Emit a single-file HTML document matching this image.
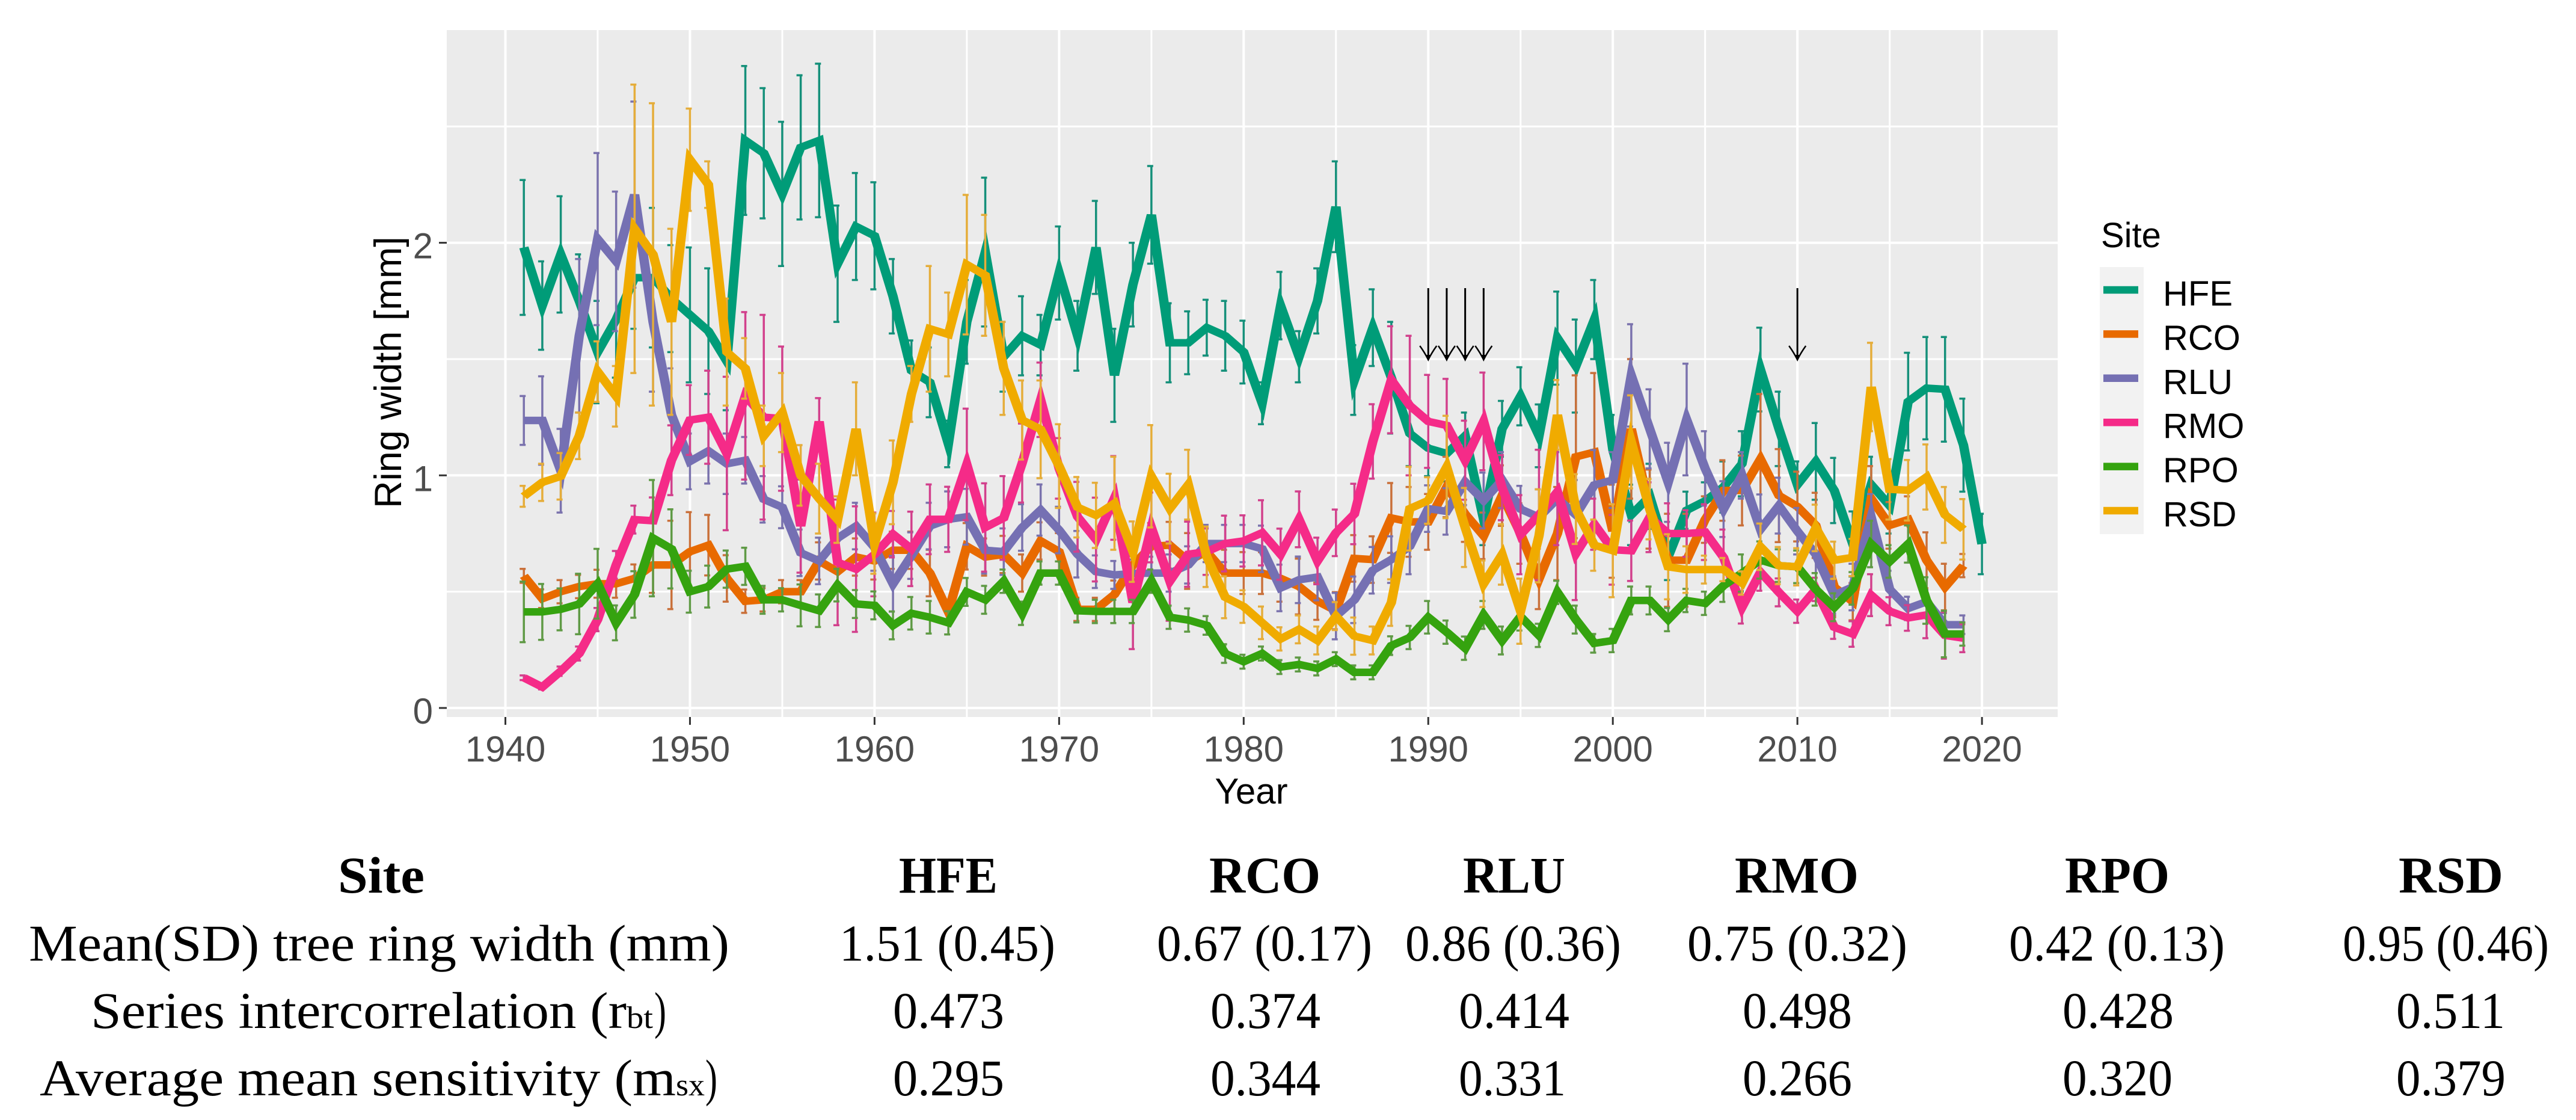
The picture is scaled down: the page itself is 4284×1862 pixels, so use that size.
<!DOCTYPE html>
<html lang="en">
<head>
<meta charset="utf-8">
<title>Ring width by site</title>
<style>
html,body{margin:0;padding:0;background:#fff;}
svg{display:block;}
.sans{font-family:"Liberation Sans",Arial,sans-serif;}
.serif{font-family:"Liberation Serif","Times New Roman",serif;fill:#000;}
.b{font-weight:bold;}
</style>
</head>
<body>
<svg id="fig" xmlns="http://www.w3.org/2000/svg" width="4284" height="1862" viewBox="0 0 4284 1862">
  <rect x="743" y="50" width="2679" height="1142" fill="#ebebeb"/>
  <g id="grid"></g>
  <g id="series"></g>
  <g id="arrows"></g>
  <g id="axes"></g>
  <text class="sans" x="2081" y="1336" font-size="60" text-anchor="middle" fill="#000">Year</text>
  <text class="sans" transform="translate(667,619) rotate(-90)" font-size="63" text-anchor="middle" fill="#000">Ring width [mm]</text>

  <g>
    <text class="sans" x="3494" y="411" font-size="58" fill="#000">Site</text>
    <rect x="3492" y="444" width="73" height="444" fill="#f2f2f2"/>
    <g id="legend-entries"></g>
  </g>

  <g>
    <g class="serif b" font-size="86">
      <text class="serif b" x="562" y="1484" textLength="144" lengthAdjust="spacingAndGlyphs">Site</text>
      <text class="serif b" x="1495" y="1484" textLength="164" lengthAdjust="spacingAndGlyphs">HFE</text>
      <text class="serif b" x="2011" y="1484" textLength="185" lengthAdjust="spacingAndGlyphs">RCO</text>
      <text class="serif b" x="2433" y="1484" textLength="170" lengthAdjust="spacingAndGlyphs">RLU</text>
      <text class="serif b" x="2885" y="1484" textLength="206" lengthAdjust="spacingAndGlyphs">RMO</text>
      <text class="serif b" x="3434" y="1484" textLength="174" lengthAdjust="spacingAndGlyphs">RPO</text>
      <text class="serif b" x="3989" y="1484" textLength="174" lengthAdjust="spacingAndGlyphs">RSD</text>
    </g>
    <g class="serif" font-size="86">
      <text class="serif" x="48" y="1597" textLength="1165" lengthAdjust="spacingAndGlyphs">Mean(SD) tree ring width (mm)</text>
      <text class="serif" x="1396" y="1597" textLength="359" lengthAdjust="spacingAndGlyphs">1.51 (0.45)</text>
      <text class="serif" x="1924" y="1597" textLength="358" lengthAdjust="spacingAndGlyphs">0.67 (0.17)</text>
      <text class="serif" x="2337" y="1597" textLength="359" lengthAdjust="spacingAndGlyphs">0.86 (0.36)</text>
      <text class="serif" x="2806" y="1597" textLength="366" lengthAdjust="spacingAndGlyphs">0.75 (0.32)</text>
      <text class="serif" x="3341" y="1597" textLength="359" lengthAdjust="spacingAndGlyphs">0.42 (0.13)</text>
      <text class="serif" x="3896" y="1597" textLength="343" lengthAdjust="spacingAndGlyphs">0.95 (0.46)</text>
    </g>
    <g class="serif" font-size="86">
      <text class="serif" x="151" y="1709" textLength="891" lengthAdjust="spacingAndGlyphs">Series intercorrelation (r</text>
      <text class="serif" x="1042" y="1709" font-size="52" textLength="44" lengthAdjust="spacingAndGlyphs">bt</text>
      <text class="serif" x="1088" y="1709" textLength="20" lengthAdjust="spacingAndGlyphs">)</text>
      <text class="serif" x="1485" y="1709" textLength="185" lengthAdjust="spacingAndGlyphs">0.473</text>
      <text class="serif" x="2013" y="1709" textLength="183" lengthAdjust="spacingAndGlyphs">0.374</text>
      <text class="serif" x="2426" y="1709" textLength="184" lengthAdjust="spacingAndGlyphs">0.414</text>
      <text class="serif" x="2898" y="1709" textLength="182" lengthAdjust="spacingAndGlyphs">0.498</text>
      <text class="serif" x="3430" y="1709" textLength="185" lengthAdjust="spacingAndGlyphs">0.428</text>
      <text class="serif" x="3985" y="1709" textLength="181" lengthAdjust="spacingAndGlyphs">0.511</text>
    </g>
    <g class="serif" font-size="86">
      <text class="serif" x="66" y="1821" textLength="1058" lengthAdjust="spacingAndGlyphs">Average mean sensitivity (m</text>
      <text class="serif" x="1124" y="1821" font-size="52" textLength="48" lengthAdjust="spacingAndGlyphs">sx</text>
      <text class="serif" x="1173" y="1821" textLength="20" lengthAdjust="spacingAndGlyphs">)</text>
      <text class="serif" x="1485" y="1821" textLength="185" lengthAdjust="spacingAndGlyphs">0.295</text>
      <text class="serif" x="2013" y="1821" textLength="183" lengthAdjust="spacingAndGlyphs">0.344</text>
      <text class="serif" x="2426" y="1821" textLength="178" lengthAdjust="spacingAndGlyphs">0.331</text>
      <text class="serif" x="2898" y="1821" textLength="182" lengthAdjust="spacingAndGlyphs">0.266</text>
      <text class="serif" x="3430" y="1821" textLength="183" lengthAdjust="spacingAndGlyphs">0.320</text>
      <text class="serif" x="3985" y="1821" textLength="182" lengthAdjust="spacingAndGlyphs">0.379</text>
    </g>
  </g>
</svg>

<script>
const firstYear = 1941;
const siteNames = ['HFE','RCO','RLU','RMO','RPO','RSD'];
const xTickLabels = [1940,1950,1960,1970,1980,1990,2000,2010,2020];
const xMinorTicks = [1945,1955,1965,1975,1985,1995,2005,2015];
const yTickLabels = [0,1,2];
const yMinorTicks = [0.5,1.5,2.5];
const arrowYears = [1990,1991,1992,1993,2010];

const hfeMean = [1.98,1.73,1.95,1.75,1.53,1.67,1.85,1.85,1.76,
1.69,1.62,1.49,2.44,2.385,2.21,2.41,2.44,1.91,2.07,
2.03,1.77,1.45,1.40,1.135,1.66,1.96,1.51,1.60,1.56,
1.87,1.60,1.98,1.43,1.82,2.12,1.57,1.57,1.635,1.60,
1.53,1.31,1.73,1.51,1.75,2.155,1.41,1.635,1.42,1.18,
1.117,1.094,1.17,0.81,1.20,1.34,1.17,1.59,1.47,1.67,
1.11,0.83,0.91,0.65,0.85,0.89,0.95,1.05,1.455,1.20,
0.96,1.06,0.935,0.705,0.96,0.87,1.317,1.375,1.37,1.13,
0.705];
const hfeErr = [.29,.19,.25,.2,.22,.25,.22,.3,.23,
.29,.27,.21,.32,.28,.31,.31,.33,.25,.23,
.23,.16,.13,.15,.1,.18,.32,.15,.17,.13,
.2,.15,.2,.2,.18,.21,.17,.135,.12,.15,
.135,.09,.145,.11,.14,.195,.15,.165,.24,.14,
.12,.12,.1,.11,.12,.125,.135,.2,.2,.17,
.15,.13,.14,.1,.08,.08,.11,.14,.18,.16,
.1,.165,.14,.14,.12,.12,.21,.22,.225,.2,
.13];

const rcoMean = [.568,.47,.50,.522,.534,.534,.557,.615,.615,
.672,.70,.557,.459,.465,.50,.50,.632,.586,.649,
.632,.678,.678,.58,.413,.695,.649,.66,.58,.718,
.672,.424,.424,.488,.615,.695,.70,.632,.672,.58,
.58,.58,.557,.522,.459,.418,.643,.638,.817,.80,
.80,.95,.834,.74,.913,.75,.555,.75,1.08,1.10,
.76,1.20,.855,.635,.635,.81,.935,.935,1.07,.913,
.866,.785,.52,.457,.90,.785,.81,.635,.52,.612];
const rcoErr = [.03,.04,.05,.05,.06,.06,.06,.12,.19,
.17,.13,.1,.05,.05,.05,.05,.08,.08,.08,
.08,.08,.08,.1,.05,.1,.08,.08,.08,.08,
.08,.05,.05,.06,.08,.1,.1,.12,.1,.1,
.09,.09,.1,.12,.08,.08,.1,.1,.15,.15,
.12,.13,.12,.1,.13,.13,.13,.2,.35,.34,
.2,.3,.17,.2,.2,.1,.13,.15,.28,.2,
.15,.14,.13,.08,.14,.1,.1,.12,.1,.05];

const rluMean = [1.236,1.236,1.02,1.6,2.016,1.92,2.207,1.66,1.26,
1.06,1.105,1.05,1.065,.897,.863,.667,.632,.73,.782,
.69,.534,.655,.782,.811,.822,.678,.672,.776,.851,
.765,.661,.586,.572,.578,.58,.58,.615,.707,.707,
.707,.684,.516,.551,.563,.395,.465,.592,.638,.695,
.857,.845,.972,.892,.98,.855,.82,.90,.83,.959,
.98,1.43,1.20,.97,1.24,1.03,.855,1.0,.768,.87,
.76,.66,.486,.52,.82,.51,.428,.457,.358,.358];
const rluErr = [.105,.19,.18,.33,.37,.3,.4,.3,.2,
.12,.14,.13,.1,.1,.09,.1,.1,.1,.1,
.1,.12,.1,.1,.12,.12,.1,.1,.1,.11,
.1,.1,.07,.06,.06,.07,.08,.08,.08,.08,
.08,.1,.1,.1,.1,.1,.1,.1,.1,.12,
.1,.1,.1,.12,.12,.1,.12,.2,.15,.15,
.12,.22,.17,.17,.24,.16,.12,.1,.15,.12,
.1,.08,.08,.1,.1,.08,.05,.05,.05,.04];

const rmoMean = [.13,.09,.158,.234,.38,.615,.81,.805,1.065,
1.238,1.25,1.094,1.342,1.25,1.244,.782,1.232,.626,.597,
.66,.747,.684,.811,.811,1.047,.776,.817,1.053,1.325,
1.03,.822,.724,.903,.453,.776,.545,.661,.672,.707,
.718,.753,.661,.811,.632,.753,.834,1.146,1.411,1.30,
1.232,1.215,1.065,1.232,.947,.745,.83,.93,.664,.79,
.68,.676,.82,.75,.75,.756,.647,.433,.584,.497,
.416,.51,.347,.318,.485,.416,.387,.40,.312,.30];
const rmoErr = [.01,.01,.02,.03,.05,.06,.06,.1,.15,
.15,.2,.33,.36,.44,.31,.2,.1,.27,.27,
.18,.1,.16,.15,.14,.24,.19,.18,.17,.16,
.13,.15,.18,.18,.2,.15,.17,.14,.1,.12,
.11,.14,.11,.12,.1,.1,.13,.16,.23,.3,
.2,.2,.17,.21,.14,.17,.28,.23,.2,.11,
.15,.13,.15,.13,.1,.12,.12,.07,.08,.06,
.05,.05,.05,.055,.09,.06,.055,.1,.1,.06];

const rpoMean = [.413,.413,.424,.447,.534,.366,.488,.73,.684,
.50,.522,.597,.609,.465,.465,.441,.418,.528,.447,
.441,.355,.407,.39,.366,.499,.465,.545,.407,.58,
.58,.418,.415,.415,.415,.545,.39,.378,.355,.234,
.199,.234,.176,.187,.17,.21,.153,.153,.268,.303,
.39,.326,.257,.40,.29,.393,.312,.497,.38,.278,
.29,.462,.462,.38,.462,.45,.526,.58,.636,.612,
.607,.51,.433,.514,.705,.63,.705,.462,.318,.318];
const rpoErr = [.13,.12,.09,.13,.15,.075,.1,.25,.17,
.09,.09,.08,.08,.06,.05,.09,.07,.07,.06,
.06,.06,.07,.07,.05,.06,.06,.05,.05,.05,
.05,.05,.05,.05,.05,.05,.05,.05,.04,.04,
.03,.03,.03,.03,.03,.03,.03,.03,.04,.05,
.07,.05,.05,.06,.06,.06,.05,.05,.06,.04,
.05,.06,.06,.05,.05,.05,.07,.08,.08,.07,
.07,.07,.06,.07,.1,.07,.08,.1,.1,.05];

const rsdMean = [.91,.97,.996,1.17,1.446,1.34,2.06,1.95,1.66,
2.357,2.25,1.53,1.46,1.17,1.27,1.0,.90,.81,1.20,
.707,.97,1.35,1.63,1.606,1.906,1.86,1.46,1.238,1.198,
1.04,.863,.828,.88,.672,.996,.857,.96,.65,.476,
.436,.366,.297,.338,.29,.395,.309,.29,.453,.857,
.892,1.036,.776,.534,.66,.416,.74,1.26,.855,.70,
.676,1.144,.855,.607,.595,.595,.595,.537,.693,.612,
.607,.774,.635,.647,1.38,.94,.936,.993,.83,.768];
const rsdErr = [.045,.08,.1,.1,.13,.13,.62,.65,.4,
.22,.1,.23,.13,.13,.17,.13,.15,.1,.2,
.13,.18,.12,.27,.18,.3,.26,.2,.17,.21,
.18,.13,.14,.2,.13,.22,.15,.15,.13,.09,
.07,.07,.05,.06,.06,.06,.08,.06,.1,.18,
.1,.22,.17,.1,.13,.14,.2,.15,.15,.11,
.2,.2,.13,.14,.1,.06,.05,.05,.1,.08,
.08,.1,.08,.08,.19,.13,.13,.14,.12,.13];

const means = [hfeMean, rcoMean, rluMean, rmoMean, rpoMean, rsdMean];
const errs = [hfeErr, rcoErr, rluErr, rmoErr, rpoErr, rsdErr];
const lineColors = ['#009c78','#e86a00','#7570b3','#f52b88','#35a30f','#f0ab00'];
const barColors = ['#15907a','#c9703a','#7a72ad','#d2408c','#5f9a45','#e5ad3a'];

const NS = 'http://www.w3.org/2000/svg';
const strokeStretch = 1.25;
function xScale(year){ return 840.5 + (year - 1940) * 30.695; }
function yScale(v){ return 1177 - v * 386.7; }
function make(tag, attrs, parent){
  const el = document.createElementNS(NS, tag);
  for (const k in attrs) el.setAttribute(k, attrs[k]);
  parent.appendChild(el);
  return el;
}

const grid = document.getElementById('grid');
xMinorTicks.forEach(function(t){
  const el = make('line',{x1:xScale(t),x2:xScale(t),y1:50,y2:1192,stroke:'#fff','stroke-width':3},grid);
  
  
});
yMinorTicks.forEach(function(t){
  const el = make('line',{x1:743,x2:3422,y1:yScale(t),y2:yScale(t),stroke:'#fff','stroke-width':3},grid);
  
  
});
xTickLabels.forEach(function(t){
  const el = make('line',{x1:xScale(t),x2:xScale(t),y1:50,y2:1192,stroke:'#fff','stroke-width':4},grid);
  
  
});
yTickLabels.forEach(function(t){
  const el = make('line',{x1:743,x2:3422,y1:yScale(t),y2:yScale(t),stroke:'#fff','stroke-width':4},grid);
  
  
});

const seriesLayer = document.getElementById('series');
means.forEach(function(vals, s){
  const g = make('g',{},seriesLayer);
  
  
  vals.forEach(function(v, i){
    const x = xScale(firstYear + i);
    const hi = yScale(v + errs[s][i]);
    const lo = yScale(v - errs[s][i]);
    const bar = make('path',{
      d:'M'+(x-7)+' '+hi+'H'+(x+3)+'M'+x+' '+hi+'V'+lo+'M'+(x-7)+' '+lo+'H'+(x+3),
      fill:'none',stroke:barColors[s],'stroke-width':3.5
    },g);
    
    
  });
  const pts = vals.map(function(v, i){ return (xScale(firstYear + i) / strokeStretch).toFixed(2)+','+yScale(v).toFixed(1); }).join(' ');
  const line = make('polyline',{points:pts,transform:'scale('+strokeStretch+',1)',fill:'none',stroke:lineColors[s],'stroke-width':12.5,'stroke-linejoin':'miter','stroke-miterlimit':6},g);
  
  
});

const arrows = document.getElementById('arrows');
arrowYears.forEach(function(yr){
  const x = xScale(yr);
  const g = make('g',{},arrows);
  
  
  make('line',{x1:x,x2:x,y1:479,y2:596,stroke:'#000','stroke-width':3},g);
  make('path',{d:'M'+(x-14)+' 575Q'+(x-6)+' 586 '+x+' 598Q'+(x+6)+' 586 '+(x+14)+' 575',fill:'none',stroke:'#000','stroke-width':2.5},g);
  make('path',{d:'M'+(x-5)+' 590L'+x+' 601L'+(x+5)+' 590Z',fill:'#000'},g);
});

const axes = document.getElementById('axes');
xTickLabels.forEach(function(t){
  const tick = make('line',{x1:xScale(t),x2:xScale(t),y1:1192,y2:1205,stroke:'#333','stroke-width':3},axes);
  
  
  const label = make('text',{x:xScale(t),y:1266,'font-size':60,'text-anchor':'middle',fill:'#4d4d4d','class':'sans'},axes);
  
  
  label.textContent = t;
});
yTickLabels.forEach(function(t){
  const tick = make('line',{x1:730,x2:743,y1:yScale(t),y2:yScale(t),stroke:'#333','stroke-width':3},axes);
  
  
  const label = make('text',{x:720,y:yScale(t)+26,'font-size':60,'text-anchor':'end',fill:'#4d4d4d','class':'sans'},axes);
  
  
  label.textContent = t;
});

const legendEntries = document.getElementById('legend-entries');
siteNames.forEach(function(name, i){
  const cy = 482 + i * 73.4;
  const g = make('g',{},legendEntries);
  
  
  make('line',{x1:3498,x2:3556,y1:cy,y2:cy,stroke:lineColors[i],'stroke-width':12.5},g);
  const t = make('text',{x:3597,y:cy+26,'font-size':58,fill:'#000','class':'sans'},g);
  t.textContent = name;
});
</script>
</body>
</html>
